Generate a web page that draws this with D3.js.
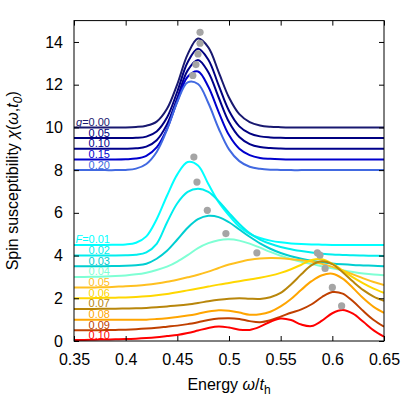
<!DOCTYPE html>
<html>
<head>
<meta charset="utf-8">
<script src="https://cdn.jsdelivr.net/npm/d3@7"></script>
<style>
  body { margin: 0; background: #fff; }
  svg { font-family: "Liberation Sans", Arial, Helvetica, sans-serif; }
</style>
</head>
<body>
<div id="chart"></div>
<script>
"use strict";

// energy grid (omega / t_h)
var energy = [0.35,0.36,0.37,0.38,0.39,0.40,0.41,0.42,0.43,0.44,0.45,0.46,0.47,0.48,0.49,0.50,
              0.51,0.52,0.53,0.54,0.55,0.56,0.57,0.58,0.59,0.60,0.61,0.62,0.63,0.64,0.65];

// upper family, labelled by g (curves already shifted)
var gLabels = ["0.00","0.05","0.10","0.15","0.20"];
var gOffsets = [10, 9.5, 9, 8.5, 8];
var gCurves = [
  [10.00,10.00,10.00,10.00,10.00,10.00,10.02,10.08,10.27,10.87,12.03,13.42,14.16,13.75,12.59,11.40,
   10.62,10.25,10.09,10.03,10.01,10.00,10.00,10.00,10.00,10.00,10.00,10.00,10.00,10.00,10.00],
  [9.50,9.50,9.50,9.50,9.50,9.50,9.51,9.57,9.81,10.46,11.68,13.05,13.68,13.17,11.97,10.78,
   10.05,9.72,9.58,9.53,9.51,9.50,9.50,9.50,9.50,9.50,9.50,9.50,9.50,9.50,9.50],
  [9.00,9.00,9.00,9.00,9.00,9.00,9.02,9.10,9.40,10.14,11.38,12.67,13.16,12.58,11.40,10.25,
   9.55,9.22,9.08,9.03,9.01,9.00,9.00,9.00,9.00,9.00,9.00,9.00,9.00,9.00,9.00],
  [8.50,8.50,8.50,8.50,8.50,8.51,8.54,8.67,9.06,9.93,11.23,12.37,12.62,11.90,10.72,9.64,
   9.00,8.70,8.57,8.53,8.51,8.50,8.50,8.50,8.50,8.50,8.50,8.50,8.50,8.50,8.50],
  [8.00,8.00,8.00,8.00,8.00,8.01,8.07,8.29,8.85,9.89,11.20,12.11,12.03,11.14,9.95,8.97,
   8.42,8.16,8.06,8.02,8.01,8.00,8.00,8.00,8.00,8.00,8.00,8.00,8.00,8.00,8.00]
];
var gPeakX = [0.472, 0.472, 0.470, 0.468, 0.465];
var gPeakY = [14.45, 13.94, 13.44, 12.94, 12.43];

// lower family, labelled by F
var fLabels = ["0.01","0.02","0.03","0.04","0.05","0.06","0.07","0.08","0.09","0.10"];
var fOffsets = [4.5, 4, 3.5, 3, 2.5, 2, 1.5, 1, 0.5, 0];
var fCurves = [
  [4.50,4.50,4.50,4.50,4.51,4.52,4.60,4.90,5.70,6.80,7.80,8.38,8.22,7.35,6.50,5.88,
   5.35,5.02,4.82,4.70,4.62,4.57,4.54,4.52,4.51,4.50,4.50,4.50,4.50,4.50,4.50],
  [4.00,4.00,4.00,4.00,4.00,4.01,4.04,4.15,4.55,5.55,6.45,6.98,7.13,6.98,6.55,6.00,
   5.48,5.05,4.75,4.55,4.40,4.30,4.21,4.14,4.09,4.05,4.03,4.01,4.00,3.99,3.98],
  [3.50,3.50,3.50,3.50,3.51,3.52,3.55,3.62,3.85,4.22,4.75,5.30,5.70,5.86,5.80,5.56,
   5.22,4.88,4.57,4.32,4.12,3.97,3.85,3.76,3.69,3.63,3.59,3.56,3.54,3.52,3.50],
  [3.00,3.00,3.01,3.02,3.04,3.07,3.12,3.20,3.32,3.48,3.72,4.02,4.35,4.58,4.72,4.76,
   4.70,4.56,4.37,4.17,3.99,3.84,3.71,3.60,3.50,3.40,3.31,3.23,3.16,3.11,3.08],
  [2.50,2.50,2.51,2.52,2.54,2.56,2.59,2.63,2.69,2.77,2.87,2.98,3.10,3.25,3.42,3.58,
   3.70,3.80,3.86,3.88,3.87,3.83,3.78,3.71,3.61,3.47,3.30,3.12,2.93,2.76,2.62],
  [2.00,2.00,2.01,2.02,2.03,2.04,2.06,2.09,2.14,2.20,2.28,2.37,2.46,2.55,2.64,2.72,
   2.80,2.88,2.96,3.06,3.19,3.36,3.57,3.79,3.83,3.62,3.30,2.98,2.70,2.45,2.25],
  [1.50,1.50,1.50,1.51,1.51,1.52,1.53,1.55,1.58,1.62,1.66,1.71,1.78,1.86,1.93,1.98,
   2.00,1.98,1.97,2.05,2.25,2.65,3.12,3.55,3.73,3.60,3.22,2.78,2.38,2.08,1.88],
  [1.00,1.00,1.00,1.00,1.00,1.00,1.00,1.00,1.03,1.07,1.12,1.19,1.28,1.38,1.44,1.42,
   1.33,1.23,1.25,1.37,1.62,1.97,2.40,2.80,3.08,3.15,2.92,2.48,2.00,1.60,1.32],
  [0.50,0.50,0.50,0.51,0.52,0.53,0.55,0.58,0.62,0.67,0.72,0.79,0.88,0.98,1.05,1.07,
   1.03,0.93,0.88,0.97,1.14,1.32,1.48,1.72,2.06,2.29,2.22,1.86,1.40,0.98,0.67],
  [0.05,0.05,0.06,0.07,0.08,0.09,0.11,0.14,0.18,0.23,0.28,0.37,0.49,0.61,0.68,0.63,
   0.53,0.52,0.67,0.90,1.05,0.98,0.77,0.70,0.95,1.30,1.45,1.28,0.90,0.50,0.20]
];
var fPeakX = [0.466, 0.469, 0.479, 0.497, 0.527, 0.5855, 0.588, 0.593, 0.600, 0.609];
var fPeakY = [8.61, 7.44, 6.12, 5.03, 4.13, 4.13, 4.02, 3.40, 2.51, 1.64];

var xTicks = [0.35, 0.4, 0.45, 0.5, 0.55, 0.6, 0.65];
var yTicks = [0, 2, 4, 6, 8, 10, 12, 14];

var gColors = ["#191970", "#000080", "#00008b", "#0000cd", "#4169e1"];
var fColors = ["#00ffff", "#00eeee", "#00ced1", "#7fffd4", "#ffc020",
               "#ffd700", "#b8860b", "#ffa500", "#c04000", "#ff0000"];

var margin = {top: 20.6, right: 31, bottom: 74, left: 74},
    width = 415 - margin.left - margin.right,
    height = 415 - margin.top - margin.bottom;

var x = d3.scaleLinear().domain([0.35, 0.65]).range([0, width]);
var y = d3.scaleLinear().domain([0, 15]).range([height, 0]);

var svg = d3.select("#chart").append("svg")
    .attr("width", 415)
    .attr("height", 415)
  .append("g")
    .attr("transform", "translate(" + margin.left + "," + margin.top + ")");

svg.append("clipPath").attr("id", "plotclip")
  .append("rect").attr("width", width).attr("height", height);

var line = d3.line()
    .x(function(d, i) { return x(energy[i]); })
    .y(function(d) { return y(d); })
    .curve(d3.curveCatmullRom.alpha(0.5));

var plot = svg.append("g").attr("clip-path", "url(#plotclip)");

// curves
gCurves.forEach(function(c, i) {
  plot.append("path").attr("d", line(c))
    .attr("fill", "none").attr("stroke", gColors[i]).attr("stroke-width", 2);
});
fCurves.forEach(function(c, i) {
  plot.append("path").attr("d", line(c))
    .attr("fill", "none").attr("stroke", fColors[i]).attr("stroke-width", 2);
});

// peak markers
var dots = gPeakX.map(function(v, i) { return [v, gPeakY[i]]; })
  .concat(fPeakX.map(function(v, i) { return [v, fPeakY[i]]; }));
plot.selectAll(".peak").data(dots).enter().append("circle")
  .attr("class", "peak")
  .attr("cx", function(d) { return x(d[0]); })
  .attr("cy", function(d) { return y(d[1]); })
  .attr("r", 3.6)
  .attr("fill", "#a5a5a5");

// curve labels
function addLabels(labels, offsets, colors, sym) {
  labels.forEach(function(t, i) {
    var txt = svg.append("text")
      .attr("x", 36).attr("y", y(offsets[i]) - 1.5)
      .attr("text-anchor", "end")
      .attr("font-size", 11)
      .attr("fill", colors[i]);
    if (i === 0) {
      txt.append("tspan").attr("font-style", "italic").text(sym);
      txt.append("tspan").text("=" + t);
    } else {
      txt.text(t);
    }
  });
}
addLabels(gLabels, gOffsets, gColors, "g");
addLabels(fLabels, fOffsets, fColors, "F");

// axes, ticks pointing inward
var fmt = d3.format("~g");
svg.append("g").attr("transform", "translate(0," + height + ")")
  .call(d3.axisBottom(x).tickValues(xTicks).tickFormat(fmt).tickSizeInner(-5).tickSizeOuter(0).tickPadding(13));
svg.append("g")
  .call(d3.axisLeft(y).tickValues(yTicks).tickSizeInner(-5).tickSizeOuter(0).tickPadding(11));
svg.append("g")
  .call(d3.axisTop(x).tickValues(xTicks).tickFormat("").tickSizeInner(-5).tickSizeOuter(0));
svg.append("g").attr("transform", "translate(" + width + ",0)")
  .call(d3.axisRight(y).tickValues(yTicks).tickFormat("").tickSizeInner(-5).tickSizeOuter(0));

svg.selectAll(".domain").remove();
svg.selectAll(".tick text").attr("font-size", 16).attr("fill", "#000")
  .attr("font-family", "'Liberation Sans', Arial, sans-serif");
svg.selectAll(".tick line").attr("stroke", "#000");

svg.append("rect").attr("width", width).attr("height", height)
  .attr("fill", "none").attr("stroke", "#000").attr("stroke-width", 1);

// axis titles
var xt = svg.append("text")
  .attr("x", width / 2).attr("y", height + 49)
  .attr("text-anchor", "middle").attr("font-size", 16);
xt.append("tspan").text("Energy ");
xt.append("tspan").attr("font-style", "italic").text("ω");
xt.append("tspan").text("/");
xt.append("tspan").attr("font-style", "italic").text("t");
xt.append("tspan").attr("font-size", 12).attr("dy", 4).text("h");

var yt = svg.append("text")
  .attr("transform", "rotate(-90)")
  .attr("x", -height / 2).attr("y", 18 - margin.left)
  .attr("text-anchor", "middle").attr("font-size", 16);
yt.append("tspan").text("Spin susceptibility ");
yt.append("tspan").attr("font-style", "italic").text("χ");
yt.append("tspan").text("(");
yt.append("tspan").attr("font-style", "italic").text("ω");
yt.append("tspan").text(",");
yt.append("tspan").attr("font-style", "italic").text("t");
yt.append("tspan").attr("font-style", "italic").attr("font-size", 12).attr("dy", 4).text("0");
yt.append("tspan").attr("dy", -4).text(")");
</script>
</body>
</html>
